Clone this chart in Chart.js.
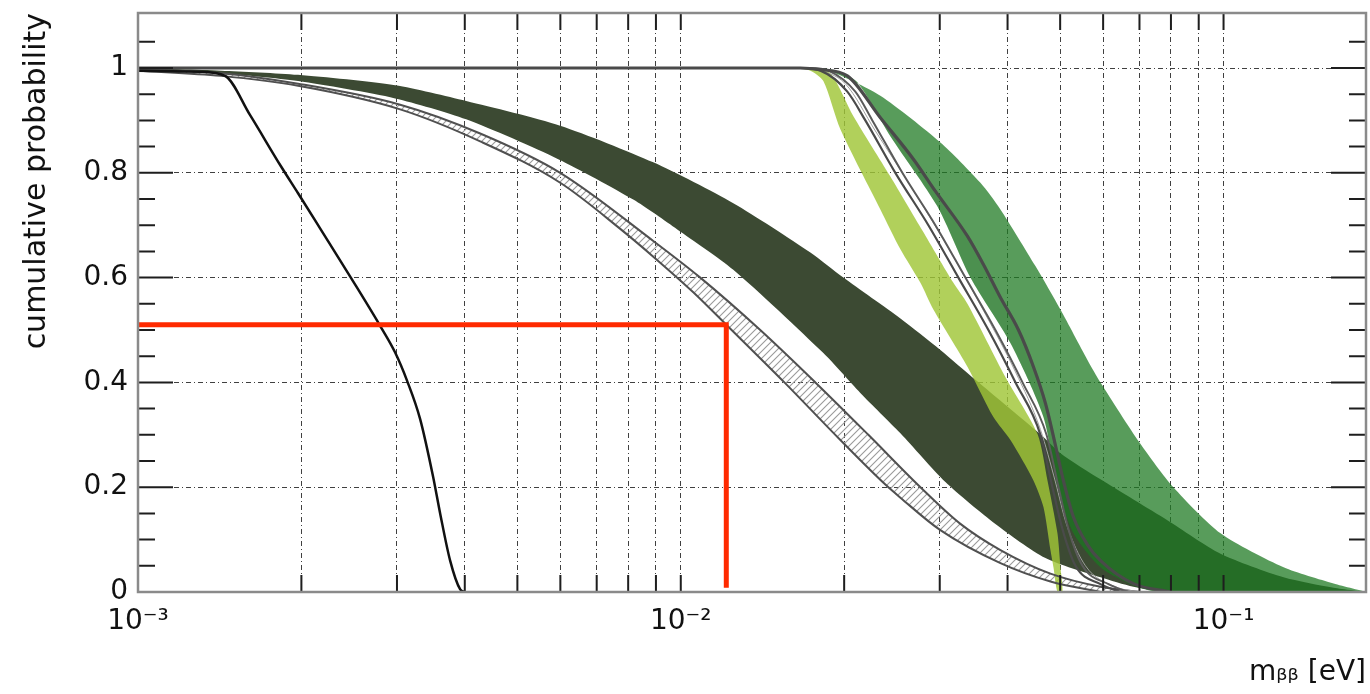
<!DOCTYPE html>
<html><head><meta charset="utf-8">
<script src="https://cdn.jsdelivr.net/npm/chart.js@4/dist/chart.umd.min.js"></script>
<style>html,body{margin:0;padding:0;background:#fff;}#c{display:block;}</style>
</head><body>
<canvas id="c" width="1370" height="694"></canvas>
<script>
// ---------- axis ticks ----------
const xTickValues = [0.001,0.002,0.003,0.004,0.005,0.006,0.007,0.008,0.009,
                     0.01,0.02,0.03,0.04,0.05,0.06,0.07,0.08,0.09,0.1];
const xLabelValues = [0.001, 0.01, 0.1];
const xLabelTexts = ['10⁻³', '10⁻²', '10⁻¹'];
const yTicks = [0, 0.2, 0.4, 0.6, 0.8, 1];
const yMinorTicks = [0.05,0.1,0.15,0.25,0.3,0.35,0.45,0.5,0.55,0.65,0.7,0.75,0.85,0.9,0.95,1.05];

// ---------- black curve ----------
const blackX = [1.0e-3,1.3e-3,1.447e-3,1.609e-3,1.835e-3,1.972e-3,2.165e-3,2.470e-3,2.793e-3,2.977e-3,3.132e-3,3.310e-3,3.497e-3,3.603e-3,3.759e-3,3.923e-3,4.0e-3];
const blackY = [0.995,0.993,0.985,0.91,0.812,0.761,0.694,0.599,0.508,0.457,0.403,0.33,0.22,0.15,0.06,0.005,0];

// ---------- dark olive band ----------
const oliveUpX = [1.0e-3,1.422e-3,1.972e-3,2.977e-3,4.024e-3,5.996e-3,8.899e-3,1.2496e-2,1.733e-2,1.993e-2,2.539e-2,3.008e-2,3.490e-2,4.658e-2,5.006e-2,5.933e-2,7.879e-2,9.874e-2,0.1290,0.1595,0.183];
const oliveUpY = [1.0,0.995,0.987,0.967,0.937,0.89,0.82,0.742,0.648,0.600,0.522,0.462,0.405,0.296,0.265,0.215,0.137,0.073,0.028,0.008,0];
const oliveLoX = [1.0e-3,1.422e-3,1.972e-3,2.977e-3,4.024e-3,5.946e-3,8.174e-3,9.853e-3,1.2496e-2,1.831e-2,2.142e-2,2.539e-2,3.073e-2,3.799e-2,4.698e-2,5.933e-2,6.821e-2,7.980e-2];
const oliveLoY = [0.997,0.99,0.975,0.942,0.902,0.826,0.749,0.692,0.615,0.456,0.38,0.303,0.21,0.13,0.065,0.028,0.01,0];

// ---------- hatched band ----------
const hatchUpX = [1.0e-3,1.422e-3,1.972e-3,3.041e-3,4.270e-3,5.996e-3,8.899e-3,1.0863e-2,1.401e-2,1.770e-2,2.216e-2,2.764e-2,3.275e-2,3.881e-2,4.798e-2,5.933e-2,7.027e-2];
const hatchUpY = [0.998,0.99,0.97,0.93,0.875,0.80,0.67,0.6,0.5,0.4,0.3,0.2,0.13,0.08,0.035,0.01,0];
const hatchLoX = [1.0e-3,1.422e-3,1.972e-3,3.041e-3,4.270e-3,5.996e-3,7.736e-3,8.899e-3,1.0545e-2,1.213e-2,1.552e-2,1.968e-2,2.382e-2,2.539e-2,3.008e-2,3.881e-2,4.798e-2,5.933e-2];
const hatchLoY = [0.995,0.985,0.966,0.921,0.86,0.781,0.693,0.64,0.572,0.51,0.4,0.29,0.205,0.18,0.118,0.055,0.02,0];

// ---------- medium green band ----------
const greenLeftX = [1.0e-3,1.770e-2,1.927e-2,2.115e-2,2.433e-2,2.970e-2,3.417e-2,4.049e-2,4.658e-2,4.943e-2,5.290e-2,5.933e-2,6.821e-2,7.654e-2];
const greenLeftY = [1.0,1.0,0.995,0.973,0.87,0.736,0.6,0.475,0.334,0.2,0.112,0.047,0.012,0];
const greenRightX = [1.0e-3,1.770e-2,1.927e-2,2.332e-2,3.008e-2,3.565e-2,3.881e-2,4.502e-2,5.006e-2,5.614e-2,5.933e-2,7.027e-2,8.083e-2,9.874e-2,0.1290,0.1595,0.183];
const greenRightY = [1.0,1.0,0.99,0.947,0.858,0.781,0.73,0.622,0.539,0.443,0.40,0.283,0.2,0.112,0.047,0.016,0];

// ---------- light yellow-green band ----------
const limeLeftX = [1.0e-3,1.592e-2,1.733e-2,1.831e-2,1.968e-2,2.332e-2,2.539e-2,2.764e-2,2.920e-2,3.374e-2,3.767e-2,4.049e-2,4.464e-2,4.658e-2,4.798e-2,4.860e-2,4.943e-2];
const limeLeftY = [1.0,1.0,0.995,0.975,0.883,0.73,0.654,0.59,0.539,0.43,0.334,0.29,0.213,0.162,0.08,0.047,0];
const limeRightX = [1.0e-3,1.626e-2,1.733e-2,1.886e-2,2.080e-2,2.433e-2,2.787e-2,3.179e-2,3.374e-2,3.965e-2,4.541e-2,4.738e-2,4.943e-2,5.006e-2,5.049e-2];
const limeRightY = [1.0,1.0,0.998,0.99,0.908,0.793,0.69,0.59,0.55,0.41,0.302,0.213,0.112,0.047,0];

// ---------- grey lines ----------
const grey1X = [1.0e-3,1.661e-2,1.808e-2,2.027e-2,2.332e-2,2.683e-2,2.945e-2,3.374e-2,3.611e-2,3.881e-2,4.190e-2,4.464e-2,4.698e-2,4.901e-2,5.049e-2,5.290e-2,5.614e-2,5.933e-2,6.821e-2,7.980e-2];
const grey1Y = [1.0,1.0,0.997,0.985,0.905,0.826,0.765,0.679,0.625,0.562,0.5,0.43,0.36,0.28,0.22,0.143,0.09,0.06,0.016,0];
const grey2X = [1.0e-3,1.661e-2,1.808e-2,2.027e-2,2.188e-2,2.485e-2,2.859e-2,3.247e-2,3.688e-2,4.137e-2,4.599e-2,4.839e-2,5.049e-2,5.336e-2,5.933e-2,6.455e-2];
const grey2Y = [1.0,1.0,0.995,0.955,0.9,0.8,0.7,0.6,0.5,0.4,0.3,0.2,0.12,0.05,0.015,0];
const grey3X = [1.0e-3,1.733e-2,1.870e-2,2.097e-2,2.254e-2,2.560e-2,2.945e-2,3.345e-2,3.799e-2,4.262e-2,4.719e-2,4.966e-2,5.179e-2,5.497e-2,6.138e-2,6.678e-2];
const grey3Y = [1.0,1.0,0.995,0.955,0.9,0.8,0.7,0.6,0.5,0.4,0.3,0.2,0.12,0.05,0.015,0];
const thinX = [1.770e-2,2.010e-2,2.283e-2,2.706e-2,3.139e-2,3.642e-2,4.137e-2,4.599e-2,4.901e-2,5.134e-2,5.567e-2,6.320e-2,7.027e-2];
const thinY = [1.0,0.97,0.88,0.76,0.65,0.53,0.42,0.31,0.21,0.13,0.05,0.01,0];

// ---------- red marker ----------
const redX = [1.0e-3, 1.213e-2, 1.213e-2];
const redY = [0.51, 0.51, 0.008];

// ---------- helpers ----------
function pts(xs, ys) { return xs.map((x, i) => ({x: x, y: ys[i]})); }
function shape(xa, ya, xb, yb) {
  const p = pts(xa, ya);
  for (let i = xb.length - 1; i >= 0; i--) p.push({x: xb[i], y: yb[i]});
  return p;
}
function hatchPattern() {
  const c = document.createElement('canvas');
  c.width = 7; c.height = 7;
  const g = c.getContext('2d');
  g.strokeStyle = '#9a9a9a'; g.lineWidth = 1.1;
  g.beginPath();
  g.moveTo(-1, 8); g.lineTo(8, -1);
  g.moveTo(-1, 1); g.lineTo(1, -1);
  g.moveTo(6, 8); g.lineTo(8, 6);
  g.stroke();
  return document.createElement('canvas').getContext('2d').createPattern(c, 'repeat');
}
const bandBase = {showLine: true, pointRadius: 0, borderWidth: 0, borderColor: 'rgba(0,0,0,0)', tension: 0.25, fill: 'shape'};
const lineBase = {showLine: true, pointRadius: 0, fill: false, cubicInterpolationMode: 'monotone'};

const greenInnerX = greenLeftX.slice(1);
const greenInnerY = greenLeftY.slice(1);
const g1x = grey1X.filter(v => v >= 1.77e-2), g1y = grey1Y.slice(grey1Y.length - g1x.length);

const datasets = [
  Object.assign({}, lineBase, {label: 'red', data: pts(redX, redY), borderColor: '#ff2a00', borderWidth: 5, cubicInterpolationMode: 'default', tension: 0, order: 1}),
  Object.assign({}, lineBase, {label: 'black', data: pts(blackX, blackY), borderColor: '#111111', borderWidth: 2.5, order: 2}),
  Object.assign({}, lineBase, {label: 'grey1', data: pts(grey1X, grey1Y), borderColor: '#4a4a4a', borderWidth: 3.2, order: 3}),
  Object.assign({}, lineBase, {label: 'grey2', data: pts(grey2X, grey2Y), borderColor: '#4a4a4a', borderWidth: 2.2, order: 3}),
  Object.assign({}, lineBase, {label: 'grey3', data: pts(grey3X, grey3Y), borderColor: '#5a5a5a', borderWidth: 2, order: 3}),
  Object.assign({}, lineBase, {label: 'thin', data: pts(thinX, thinY), borderColor: '#a0a0a0', borderWidth: 1, order: 4}),
  Object.assign({}, lineBase, {label: 'hatchUp', data: pts(hatchUpX, hatchUpY), borderColor: '#505050', borderWidth: 2, order: 4}),
  Object.assign({}, lineBase, {label: 'hatchLo', data: pts(hatchLoX, hatchLoY), borderColor: '#505050', borderWidth: 2, order: 4}),
  Object.assign({}, bandBase, {label: 'lime', data: shape(limeLeftX, limeLeftY, limeRightX, limeRightY), backgroundColor: 'rgba(160,198,55,0.82)', order: 6}),
  Object.assign({}, bandBase, {label: 'greenInner', data: shape(greenInnerX, greenInnerY, g1x, g1y), backgroundColor: 'rgba(30,100,35,0.22)', order: 7}),
  Object.assign({}, bandBase, {label: 'green', data: shape(greenLeftX, greenLeftY, greenRightX, greenRightY), backgroundColor: 'rgba(30,122,34,0.74)', order: 8}),
  Object.assign({}, bandBase, {label: 'hatch', data: shape(hatchUpX, hatchUpY, hatchLoX, hatchLoY), backgroundColor: hatchPattern(), order: 9}),
  Object.assign({}, bandBase, {label: 'olive', data: shape(oliveUpX, oliveUpY, oliveLoX, oliveLoY), backgroundColor: 'rgb(60,74,51)', order: 10})
];

const frameAndTicks = {
  id: 'frameAndTicks',
  afterDatasetsDraw(chart) {
    const {ctx, chartArea: a, scales: {x, y}} = chart;
    ctx.save();
    ctx.strokeStyle = '#1e1e1e';
    ctx.lineWidth = 2;
    ctx.beginPath();
    yTicks.concat(yMinorTicks).forEach(v => {
      const py = y.getPixelForValue(v);
      const len = yTicks.indexOf(v) >= 0 ? 35 : 17;
      ctx.moveTo(a.left, py); ctx.lineTo(a.left + len, py);
      ctx.moveTo(a.right, py); ctx.lineTo(a.right - len, py);
    });
    xTickValues.forEach(v => {
      const px = x.getPixelForValue(v);
      ctx.moveTo(px, a.bottom); ctx.lineTo(px, a.bottom - 17);
      ctx.moveTo(px, a.top); ctx.lineTo(px, a.top + 17);
    });
    ctx.stroke();
    ctx.strokeStyle = '#8a8a8a';
    ctx.lineWidth = 2.5;
    ctx.strokeRect(a.left, a.top, a.right - a.left, a.bottom - a.top);
    ctx.restore();
  }
};

Chart.defaults.font.family = "'DejaVu Sans', sans-serif";
Chart.defaults.color = '#111';

new Chart(document.getElementById('c'), {
  type: 'scatter',
  data: {datasets: datasets},
  options: {
    responsive: false,
    devicePixelRatio: 1,
    animation: false,
    layout: {padding: {top: 13, right: 4, left: 0, bottom: 0}},
    plugins: {legend: {display: false}, tooltip: {enabled: false}},
    scales: {
      x: {
        type: 'logarithmic', min: 0.001, max: 0.183,
        afterFit: s => { s.height = 102; s.paddingLeft = 0; s.paddingRight = 0; },
        afterBuildTicks: s => { s.ticks = xTickValues.map(v => ({value: v})); },
        ticks: {
          autoSkip: false, maxRotation: 0, padding: 13,
          font: {size: 28},
          callback: v => {
            const i = xLabelValues.findIndex(t => Math.abs(t - v) / t < 1e-6);
            return i >= 0 ? xLabelTexts[i] : '';
          }
        },
        grid: {color: 'rgba(0,0,0,0.75)', lineWidth: 1, drawTicks: false},
        border: {display: false, dash: [5, 3, 1, 3]},
        title: {display: true, text: 'mᵦᵦ [eV]', align: 'end', font: {size: 28}, padding: {top: 0, bottom: 4}}
      },
      y: {
        type: 'linear', min: 0, max: 1.105,
        afterFit: s => { s.width = 138; s.paddingTop = 0; s.paddingBottom = 0; },
        afterBuildTicks: s => { s.ticks = yTicks.map(v => ({value: v})); },
        ticks: {padding: 10, font: {size: 28}, callback: v => String(v)},
        grid: {color: 'rgba(0,0,0,0.75)', lineWidth: 1, drawTicks: false},
        border: {display: false, dash: [5, 3, 1, 3]},
        title: {display: true, text: 'cumulative probability', align: 'end', font: {size: 30}, padding: {top: 19, bottom: 0}}
      }
    }
  },
  plugins: [frameAndTicks]
});
</script>
</body></html>
